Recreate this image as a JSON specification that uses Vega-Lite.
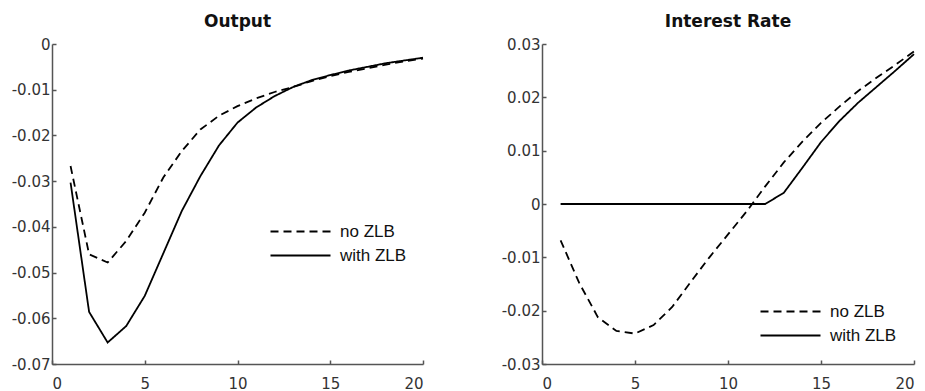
{
  "$schema": "https://vega.github.io/schema/vega-lite/v6.json",
  "background": "white",
  "padding": {"left": 11, "top": 13, "right": 5, "bottom": 0},
  "config": {
    "view": {"stroke": null},
    "font": "DejaVu Sans",
    "axis": {"grid": false, "domainColor": "#555", "domainWidth": 1.5, "tickColor": "#555", "tickWidth": 1.5, "tickSize": -4, "labelFont": "DejaVu Sans", "labelFontSize": 15, "labelColor": "#333", "title": null},
    "title": {"font": "DejaVu Sans", "fontSize": 17, "fontWeight": "bold", "color": "#111", "offset": 6},
    "concat": {"spacing": 74},
    "legend": {"title": null, "orient": "none", "symbolType": "M-8,0H8", "symbolSize": 56.25, "symbolStrokeColor": "black", "symbolStrokeWidth": 1.8, "labelFont": "Liberation Sans", "labelFontSize": 17, "labelColor": "#111", "labelOffset": 31, "rowPadding": 6}
  },
  "datasets": {
    "output": [
      {"period": 1, "value": -0.0267, "series": "no ZLB"},
      {"period": 2, "value": -0.0460, "series": "no ZLB"},
      {"period": 3, "value": -0.0478, "series": "no ZLB"},
      {"period": 4, "value": -0.0431, "series": "no ZLB"},
      {"period": 5, "value": -0.0369, "series": "no ZLB"},
      {"period": 6, "value": -0.0292, "series": "no ZLB"},
      {"period": 7, "value": -0.0234, "series": "no ZLB"},
      {"period": 8, "value": -0.0187, "series": "no ZLB"},
      {"period": 9, "value": -0.0157, "series": "no ZLB"},
      {"period": 10, "value": -0.0136, "series": "no ZLB"},
      {"period": 11, "value": -0.0119, "series": "no ZLB"},
      {"period": 12, "value": -0.0105, "series": "no ZLB"},
      {"period": 13, "value": -0.0094, "series": "no ZLB"},
      {"period": 14, "value": -0.0081, "series": "no ZLB"},
      {"period": 15, "value": -0.0070, "series": "no ZLB"},
      {"period": 16, "value": -0.0061, "series": "no ZLB"},
      {"period": 17, "value": -0.0053, "series": "no ZLB"},
      {"period": 18, "value": -0.0045, "series": "no ZLB"},
      {"period": 19, "value": -0.0038, "series": "no ZLB"},
      {"period": 20, "value": -0.0032, "series": "no ZLB"},
      {"period": 1, "value": -0.0303, "series": "with ZLB"},
      {"period": 2, "value": -0.0586, "series": "with ZLB"},
      {"period": 3, "value": -0.0653, "series": "with ZLB"},
      {"period": 4, "value": -0.0617, "series": "with ZLB"},
      {"period": 5, "value": -0.0551, "series": "with ZLB"},
      {"period": 6, "value": -0.0458, "series": "with ZLB"},
      {"period": 7, "value": -0.0365, "series": "with ZLB"},
      {"period": 8, "value": -0.0289, "series": "with ZLB"},
      {"period": 9, "value": -0.0222, "series": "with ZLB"},
      {"period": 10, "value": -0.0172, "series": "with ZLB"},
      {"period": 11, "value": -0.0139, "series": "with ZLB"},
      {"period": 12, "value": -0.0114, "series": "with ZLB"},
      {"period": 13, "value": -0.0094, "series": "with ZLB"},
      {"period": 14, "value": -0.0079, "series": "with ZLB"},
      {"period": 15, "value": -0.0068, "series": "with ZLB"},
      {"period": 16, "value": -0.0058, "series": "with ZLB"},
      {"period": 17, "value": -0.0050, "series": "with ZLB"},
      {"period": 18, "value": -0.0042, "series": "with ZLB"},
      {"period": 19, "value": -0.0036, "series": "with ZLB"},
      {"period": 20, "value": -0.0030, "series": "with ZLB"}
    ],
    "rate": [
      {"period": 1, "value": -0.0068, "series": "no ZLB"},
      {"period": 2, "value": -0.0148, "series": "no ZLB"},
      {"period": 3, "value": -0.0212, "series": "no ZLB"},
      {"period": 4, "value": -0.0238, "series": "no ZLB"},
      {"period": 5, "value": -0.0243, "series": "no ZLB"},
      {"period": 6, "value": -0.0227, "series": "no ZLB"},
      {"period": 7, "value": -0.0193, "series": "no ZLB"},
      {"period": 8, "value": -0.0146, "series": "no ZLB"},
      {"period": 9, "value": -0.0100, "series": "no ZLB"},
      {"period": 10, "value": -0.0057, "series": "no ZLB"},
      {"period": 11, "value": -0.0014, "series": "no ZLB"},
      {"period": 12, "value": 0.0033, "series": "no ZLB"},
      {"period": 13, "value": 0.0078, "series": "no ZLB"},
      {"period": 14, "value": 0.0117, "series": "no ZLB"},
      {"period": 15, "value": 0.0152, "series": "no ZLB"},
      {"period": 16, "value": 0.0183, "series": "no ZLB"},
      {"period": 17, "value": 0.0212, "series": "no ZLB"},
      {"period": 18, "value": 0.0237, "series": "no ZLB"},
      {"period": 19, "value": 0.0261, "series": "no ZLB"},
      {"period": 20, "value": 0.0286, "series": "no ZLB"},
      {"period": 1, "value": 0, "series": "with ZLB"},
      {"period": 2, "value": 0, "series": "with ZLB"},
      {"period": 3, "value": 0, "series": "with ZLB"},
      {"period": 4, "value": 0, "series": "with ZLB"},
      {"period": 5, "value": 0, "series": "with ZLB"},
      {"period": 6, "value": 0, "series": "with ZLB"},
      {"period": 7, "value": 0, "series": "with ZLB"},
      {"period": 8, "value": 0, "series": "with ZLB"},
      {"period": 9, "value": 0, "series": "with ZLB"},
      {"period": 10, "value": 0, "series": "with ZLB"},
      {"period": 11, "value": 0, "series": "with ZLB"},
      {"period": 12, "value": 0, "series": "with ZLB"},
      {"period": 13, "value": 0.0021, "series": "with ZLB"},
      {"period": 14, "value": 0.0068, "series": "with ZLB"},
      {"period": 15, "value": 0.0116, "series": "with ZLB"},
      {"period": 16, "value": 0.0156, "series": "with ZLB"},
      {"period": 17, "value": 0.0190, "series": "with ZLB"},
      {"period": 18, "value": 0.0220, "series": "with ZLB"},
      {"period": 19, "value": 0.0250, "series": "with ZLB"},
      {"period": 20, "value": 0.0281, "series": "with ZLB"}
    ]
  },
  "resolve": {"scale": {"strokeDash": "independent", "x": "independent", "y": "independent"}, "legend": {"strokeDash": "independent"}},
  "hconcat": [
    {
      "title": "Output",
      "width": 371,
      "height": 320,
      "data": {"name": "output"},
      "mark": {"type": "line", "color": "black", "strokeWidth": 1.8},
      "encoding": {
        "x": {"field": "period", "type": "quantitative", "scale": {"domain": [0, 20], "nice": false}, "axis": {"values": [0, 5, 10, 15, 20], "labelExpr": "'' + datum.value", "labelPadding": 16}},
        "y": {"field": "value", "type": "quantitative", "scale": {"domain": [-0.07, 0], "nice": false}, "axis": {"values": [0, -0.01, -0.02, -0.03, -0.04, -0.05, -0.06, -0.07], "labelExpr": "'' + datum.value", "labelPadding": 6}},
        "strokeDash": {"field": "series", "type": "nominal", "scale": {"domain": ["no ZLB", "with ZLB"], "range": [[8, 5], [1, 0]]}, "legend": {"legendX": 240, "legendY": 179}}
      }
    },
    {
      "title": "Interest Rate",
      "width": 372,
      "height": 320,
      "data": {"name": "rate"},
      "mark": {"type": "line", "color": "black", "strokeWidth": 1.8},
      "encoding": {
        "x": {"field": "period", "type": "quantitative", "scale": {"domain": [0, 20], "nice": false}, "axis": {"values": [0, 5, 10, 15, 20], "labelExpr": "'' + datum.value", "labelPadding": 16}},
        "y": {"field": "value", "type": "quantitative", "scale": {"domain": [-0.03, 0.03], "nice": false}, "axis": {"values": [0.03, 0.02, 0.01, 0, -0.01, -0.02, -0.03], "labelExpr": "'' + datum.value", "labelPadding": 6}},
        "strokeDash": {"field": "series", "type": "nominal", "scale": {"domain": ["no ZLB", "with ZLB"], "range": [[8, 5], [1, 0]]}, "legend": {"legendX": 240, "legendY": 259}}
      }
    }
  ]
}
